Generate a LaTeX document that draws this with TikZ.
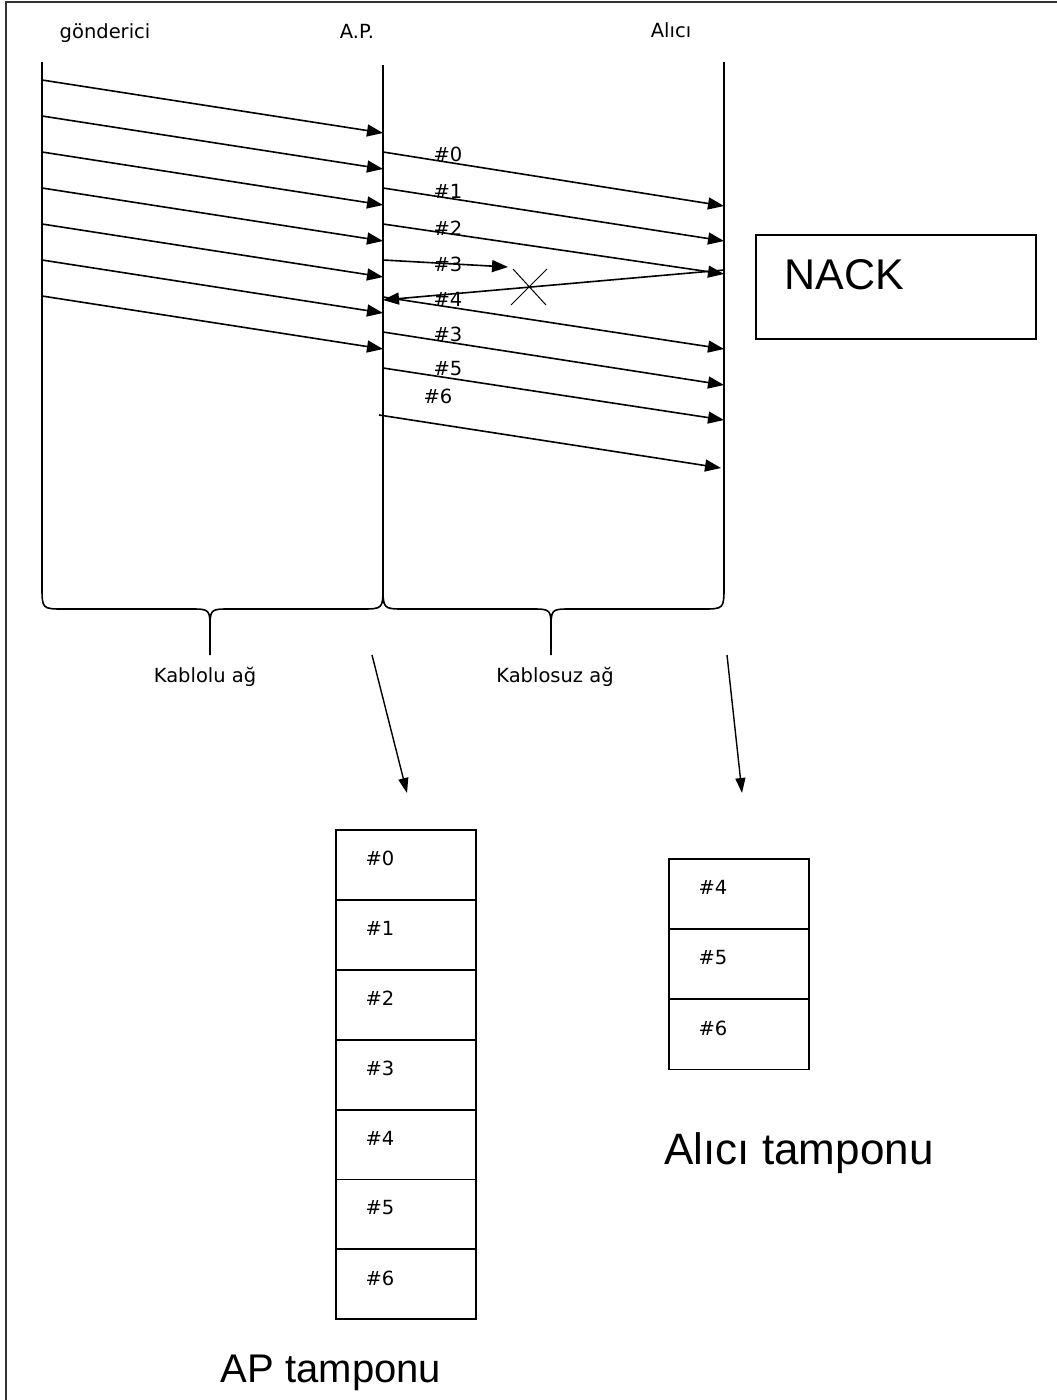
\documentclass[tikz,border=0pt]{standalone}
\usepackage{fontspec}
\setmainfont{Liberation Sans}
\newfontfamily\smallfont{DejaVu Sans}
\usetikzlibrary{arrows.meta}
\begin{document}
\begin{tikzpicture}[x=1pt,y=-1pt,
  line/.style={line width=1.6pt},
  msg/.style={line width=1.6pt,-{Triangle[length=16pt,width=12pt]}},
  downarrow/.style={line width=1.4pt,-{Triangle[length=15pt,width=10pt]}},
  lbl/.style={font=\smallfont\fontsize{19.5}{23}\selectfont, inner sep=0pt},
  big/.style={font=\fontsize{40}{48}\selectfont, inner sep=0pt},
  cell/.style={draw, line width=1.8pt, minimum width=140pt, minimum height=70pt, inner sep=0pt, anchor=north west},
]
\useasboundingbox (0,0) rectangle (1057,1400);
% outer frame (left and top edges)
\draw[line width=2.2pt, black!80] (6,1400) -- (6,2) -- (1057,2);

% headings
\node[lbl] (hsnd) at (105,33) {gönderici};
\node[lbl] (hap) at (357,31) {A.P.};
\node[lbl] (hrcv) at (671,30) {Alıcı};

% lifeline tops
\coordinate (snd) at (42,62);
\coordinate (ap) at (383,65);
\coordinate (rcv) at (724,62);
\coordinate (apb) at (383,586);

% left brace (gönderici -- A.P.)
\draw[line] (snd) -- (42,586) .. controls (42,609) .. (64,609) -- (190,609)
  .. controls (210,609) .. (210,630) -- (210,655);
\draw[line] (210,630) .. controls (210,609) .. (230,609) -- (361,609)
  .. controls (383,609) .. (apb);
\draw[line] (ap) -- (apb);
% right brace (A.P. -- Alıcı)
\draw[line] (apb) .. controls (383,609) .. (405,609) -- (531,609)
  .. controls (551,609) .. (551,630) -- (551,655);
\draw[line] (551,630) .. controls (551,609) .. (571,609) -- (702,609)
  .. controls (724,609) .. (724,586) -- (rcv);

\node[lbl] (wired) at (205,677) {Kablolu ağ};
\node[lbl] (wireless) at (555,677) {Kablosuz ağ};

% wired messages
\foreach \i in {0,...,6} {
  \coordinate (ws\i) at (42,{80+36*\i});
  \coordinate (we\i) at (383,{133+36*\i});
  \draw[msg] (ws\i) -- (we\i);
}

% wireless messages
\coordinate (s0) at (383,152); \coordinate (e0) at (724,206);
\coordinate (s1) at (383,188); \coordinate (e1) at (724,241);
\coordinate (s2) at (383,224); \coordinate (e2) at (724,274);
\coordinate (s3) at (383,260); \coordinate (e3) at (508,267);
\coordinate (s4) at (383,297); \coordinate (e4) at (724,349);
\coordinate (s3b) at (383,332); \coordinate (e3b) at (724,385);
\coordinate (s5) at (383,368); \coordinate (e5) at (724,420);
\coordinate (s6) at (379,415); \coordinate (e6) at (721,468);
\coordinate (nk) at (724,270); \coordinate (nke) at (383,300);
\foreach \a/\b in {s0/e0,s1/e1,s2/e2,s3/e3,s4/e4,s3b/e3b,s5/e5,s6/e6,nk/nke}
  \draw[msg] (\a) -- (\b);

% loss cross
\coordinate (c1) at (511,305); \coordinate (c2) at (547,269);
\coordinate (c3) at (513,269); \coordinate (c4) at (546,305);
\draw[line width=1pt] (c1) -- (c2);
\draw[line width=1pt] (c3) -- (c4);

% message labels
\node[lbl] (l0) at (448,154) {\#0};
\node[lbl] (l1) at (448,191) {\#1};
\node[lbl] (l2) at (448,228) {\#2};
\node[lbl] (l3) at (448,264) {\#3};
\node[lbl] (l4) at (448,299) {\#4};
\node[lbl] (l3b) at (448,334) {\#3};
\node[lbl] (l5) at (448,369) {\#5};
\node[lbl] (l6) at (438,396) {\#6};

% NACK box
\node[draw, line width=1.8pt, minimum width=280pt, minimum height=104pt, anchor=north west, inner sep=0pt] (nackbox) at (755,234) {};
\node[big, font=\fontsize{43}{50}\selectfont] (nack) at (844,275) {NACK};

% down arrows
\coordinate (d1s) at (372,655); \coordinate (d1e) at (407,793);
\coordinate (d2s) at (727,655); \coordinate (d2e) at (742,793);
\draw[downarrow] (d1s) -- (d1e);
\draw[downarrow] (d2s) -- (d2e);

% AP buffer
\foreach \i in {0,...,6} {
  \node[cell] (ap\i) at (335,{829+69.9*\i}) {};
  \node[lbl] (apl\i) at (380,{858+70*\i}) {\#\i};
}
\node[big] (aptitle) at (331,1373) {AP tamponu};

% receiver buffer
\foreach \i/\n in {0/4,1/5,2/6} {
  \node[cell] (rb\i) at (668,{858+70.3*\i}) {};
  \node[lbl] (rbl\i) at (713,{887+70.5*\i}) {\#\n};
}
\node[big, font=\fontsize{44}{52}\selectfont] (rtitle) at (799,1153) {Alıcı tamponu};
\end{tikzpicture}
\end{document}
